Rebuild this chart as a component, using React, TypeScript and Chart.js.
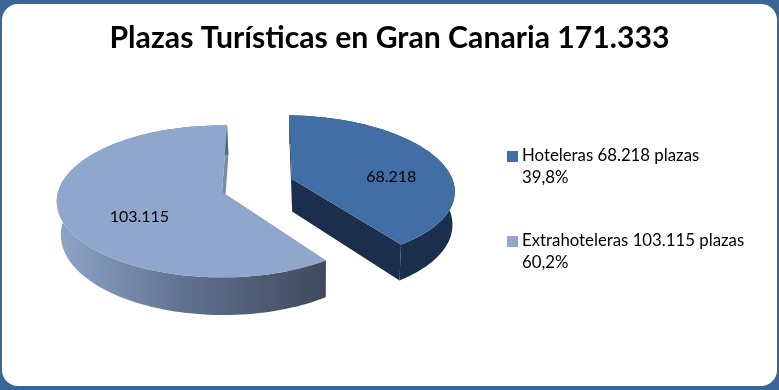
import React, { useEffect, useRef } from "react";
import { Chart, registerables } from "chart.js";

Chart.register(...registerables);

const TITLE = "Plazas Turísticas en Gran Canaria 171.333";
const categories = ["Hoteleras", "Extrahoteleras"];
const values = [68218, 103115];
const valueLabels = ["68.218", "103.115"];
const legendLines = [
  ["Hoteleras 68.218 plazas", "39,8%"],
  ["Extrahoteleras 103.115 plazas", "60,2%"],
];

const FONT = "Lato, 'Open Sans', sans-serif";
const faceColors = ["#416ea5", "#90a6cd"];
const edgeColors = ["#1b2f4d", "#7c8bab"];
const explodePx = [77, 0];
const labelRadial = [0.666, 0.53];
const labelBias = [-0.035, -0.1];

// View of the pie's ground plane: a tilted, slightly perspective circle
const VIEW = { cx: 222, cy: 192, tilt: 0.456, persp: 0.124, depth: 33, vanishX: 310, shrink: 0.984, explodeBias: -0.1 };

type Pt = { x: number; y: number };

function project(u: number, v: number, R: number): Pt {
  const s = 1 / (1 - VIEW.persp * v);
  return { x: VIEW.cx + R * u * s, y: VIEW.cy + R * VIEW.tilt * v * s };
}
function lower(p: Pt, v: number): Pt {
  const s = 1 / (1 - VIEW.persp * v);
  return { x: VIEW.vanishX + (p.x - VIEW.vanishX) * VIEW.shrink, y: p.y + VIEW.depth * s };
}

function path(ctx: CanvasRenderingContext2D, pts: Pt[]) {
  ctx.beginPath();
  pts.forEach((p, i) => (i ? ctx.lineTo(p.x, p.y) : ctx.moveTo(p.x, p.y)));
  ctx.closePath();
}

const pie3d = {
  id: "pie3d",
  beforeDatasetDraw(chart: any) {
    const ctx: CanvasRenderingContext2D = chart.ctx;
    const arcs = chart.getDatasetMeta(0).data;
    arcs.forEach((arc: any, i: number) => {
      const { startAngle, endAngle, outerRadius: R } = arc.getProps(["startAngle", "endAngle", "outerRadius"]);
      const mid = (startAngle + endAngle) / 2 + VIEW.explodeBias;
      const off = explodePx[i] / R;
      const ou = Math.cos(mid) * off;
      const ov = Math.sin(mid) * off;
      const N = 120;
      const uv: [number, number][] = [];
      for (let k = 0; k <= N; k++) {
        const a = startAngle + ((endAngle - startAngle) * k) / N;
        uv.push([ou + Math.cos(a), ov + Math.sin(a)]);
      }
      const top = uv.map(([u, v]) => project(u, v, R));
      const bot = top.map((p, k) => lower(p, uv[k][1]));
      const apex = project(ou, ov, R);
      const apexLow = lower(apex, ov);

      // walls
      let wall: string | CanvasGradient = edgeColors[i];
      if (i === 1) {
        const g = ctx.createLinearGradient(57, 0, 323, 0);
        g.addColorStop(0, "#8fa5c8");
        g.addColorStop(0.5, "#5f6f8e");
        g.addColorStop(1, "#3f4a5d");
        wall = g;
      }
      ctx.fillStyle = edgeColors[i];
      path(ctx, [apex, top[0], bot[0], apexLow]);
      ctx.fill();
      path(ctx, [apex, top[N], bot[N], apexLow]);
      ctx.fill();
      ctx.fillStyle = wall;
      path(ctx, [...top, ...bot.slice().reverse()]);
      ctx.fill();

      // top face
      ctx.fillStyle = faceColors[i];
      path(ctx, [apex, ...top]);
      ctx.fill();
    });

    // value labels
    ctx.fillStyle = "#000000";
    ctx.font = `16px ${FONT}`;
    ctx.textAlign = "center";
    ctx.textBaseline = "middle";
    arcs.forEach((arc: any, i: number) => {
      const { startAngle, endAngle, outerRadius: R } = arc.getProps(["startAngle", "endAngle", "outerRadius"]);
      const mid = (startAngle + endAngle) / 2 + labelBias[i];
      const off = explodePx[i] / R;
      const p = project(Math.cos(mid) * (off + labelRadial[i]), Math.sin(mid) * (off + labelRadial[i]), R);
      ctx.fillText(valueLabels[i], p.x, p.y + 10);
    });

    // legend
    ctx.textAlign = "left";
    ctx.font = `16.8px ${FONT}`;
    legendLines.forEach((lines, i) => {
      const y0 = 156 + i * 85;
      ctx.fillStyle = faceColors[i];
      ctx.fillRect(507, y0 - 5, 11, 11);
      ctx.fillStyle = "#000000";
      lines.forEach((t, j) => ctx.fillText(t, 522, y0 + j * 22));
    });
    return false;
  },
};

export default function App() {
  const ref = useRef<HTMLCanvasElement>(null);
  useEffect(() => {
    document.body.style.margin = "0";
    const chart = new Chart(ref.current!, {
      type: "pie",
      data: {
        labels: categories,
        datasets: [{ data: values, backgroundColor: faceColors, borderWidth: 0 }],
      },
      options: {
        responsive: false,
        animation: false,
        rotation: 2,
        radius: 164,
        layout: { padding: 0 },
        plugins: {
          legend: { display: false },
          tooltip: { enabled: false },
          title: {
            display: true,
            text: TITLE,
            color: "#000000",
            font: { family: FONT, size: 30.2, weight: "bold" },
            padding: { top: 20, bottom: 0 },
          },
        },
      },
      plugins: [pie3d],
    } as any);
    return () => chart.destroy();
  }, []);
  return (
    <div style={{ position: "fixed", left: 0, top: 0, width: 779, height: 390, overflow: "hidden", background: "#3a6597" }}>
      <div style={{ position: "absolute", left: 2, top: 4, right: 2, bottom: 4, background: "#ffffff", borderRadius: 16 }} />
      <canvas ref={ref} width={779} height={390} style={{ position: "absolute", left: 0, top: 0, display: "block" }} />
    </div>
  );
}
